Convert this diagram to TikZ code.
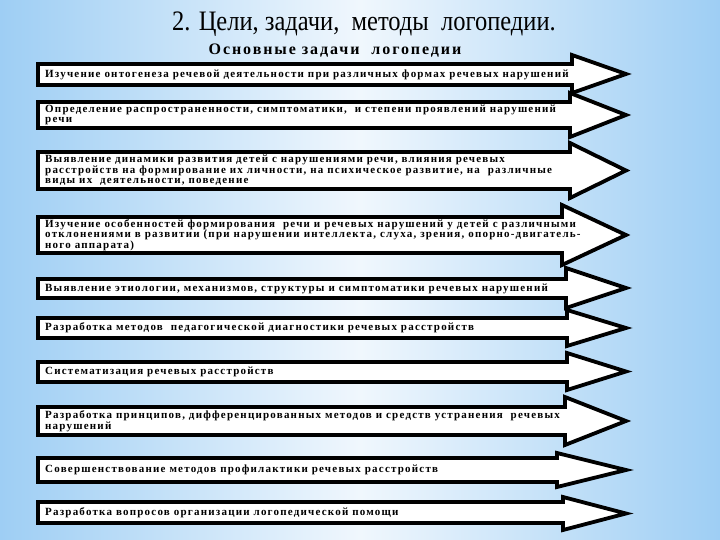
\documentclass[tikz,border=0pt]{standalone}
\usepackage{fontspec}
\setmainfont{Liberation Serif}
\newfontfamily\titlefont{Liberation Serif}
\newfontfamily\zfont[LetterSpace=11]{Liberation Serif}
\newfontfamily\subfont[LetterSpace=12]{Liberation Serif}
\usetikzlibrary{positioning}

\definecolor{slideblue}{RGB}{158,206,244}
\definecolor{slidelight}{RGB}{240,247,253}

% one task arrow: name, body top, body bottom, head top, head bottom, head base x, text
\newcommand{\zadacha}[7]{%
  \draw[zarrow] (38,#2) -- (#6,#2) -- (#6,#4) -- (626,{(#4+#5)/2}) -- (#6,#5) -- (#6,#3) -- (38,#3) -- cycle;
  \node[ztext] (#1) at (45,{(#2+#3)/2}) {#7};
}

\begin{document}
\begin{tikzpicture}[
    x=1pt, y=-1pt,
    zarrow/.style={draw=black, fill=white, line width=3.8pt, line join=miter},
    ztext/.style={anchor=west, align=left, inner sep=0pt, font=\zfont\bfseries\fontsize{11}{10.5}\selectfont},
    slidetitle/.style={font=\titlefont\fontsize{24.5}{26}\selectfont},
    subtitle/.style={font=\subfont\bfseries\fontsize{16}{17}\selectfont}
]
    % slide background
    \useasboundingbox (0,0) rectangle (720,540);
    \shade[left color=slideblue, right color=slideblue, middle color=slidelight] (0,0) rectangle (720,540);

    % headings
    \node[slidetitle] (title) at (364,24) {\scalebox{1}[1.15]{2. Цели, задачи,\ \ методы\ \ логопедии.}};
    \node[subtitle] (sub) at (335,51) {Основные задачи\ \ логопедии};

    % tasks
    \zadacha{t1}{64}{85}{55}{93}{572}{Изучение онтогенеза речевой деятельности при различных формах речевых нарушений}
    \zadacha{t2}{102}{128}{93}{137}{570}{Определение распространенности, симптоматики,\ \ и степени проявлений нарушений\\речи}
    \zadacha{t3}{152}{189}{143}{198}{570}{Выявление динамики развития детей с нарушениями речи, влияния речевых\\расстройств на формирование их личности, на психическое развитие, на\ \ различные\\виды их\ \ деятельности, поведение}
    \zadacha{t4}{217}{253}{205}{265}{562}{Изучение особенностей формирования\ \ речи и речевых нарушений у детей с различными\\отклонениями в развитии (при нарушении интеллекта, слуха, зрения, опорно-двигатель-\\ного аппарата)}
    \zadacha{t5}{279}{298}{268}{308}{566}{Выявление этиологии, механизмов, структуры и симптоматики речевых нарушений}
    \zadacha{t6}{318}{338}{310}{346}{567}{Разработка методов\ \ педагогической диагностики речевых расстройств}
    \zadacha{t7}{362}{382}{353}{390}{567}{Систематизация речевых расстройств}
    \zadacha{t8}{407}{435}{397}{445}{565}{Разработка принципов, дифференцированных методов и средств устранения\ \ речевых\\нарушений}
    \zadacha{t9}{458}{482}{453}{487}{557}{Совершенствование методов профилактики речевых расстройств}
    \zadacha{t10}{502}{523}{497}{530}{563}{Разработка вопросов организации логопедической помощи}

\end{tikzpicture}
\end{document}
